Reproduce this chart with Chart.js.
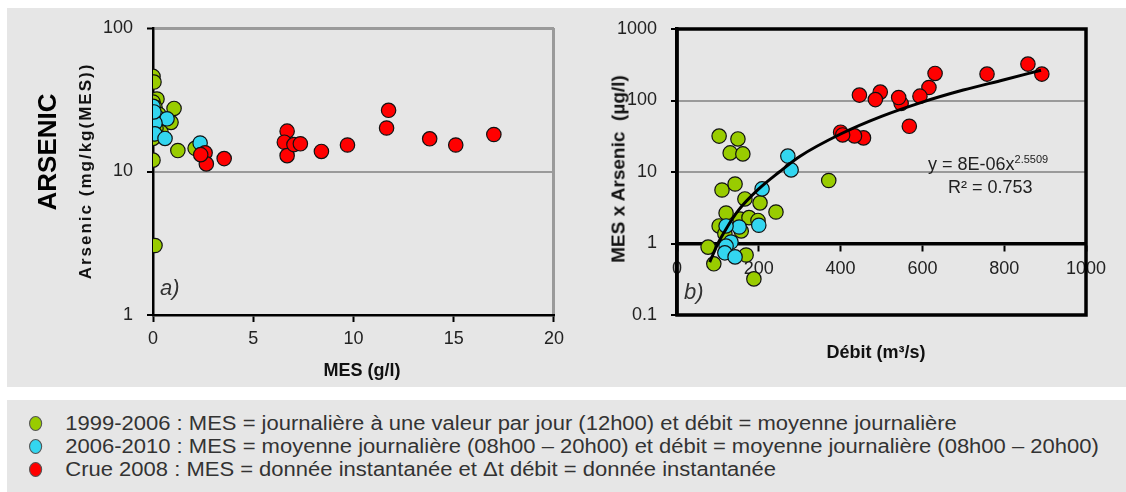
<!DOCTYPE html>
<html>
<head>
<meta charset="utf-8">
<script src="https://cdn.jsdelivr.net/npm/chart.js@4.4.0/dist/chart.umd.min.js"></script>
<style>
  body { margin: 0; width: 1126px; height: 492px; background: #fff; position: relative; overflow: hidden;
         font-family: 'Liberation Sans', Arial, sans-serif; color: #222; }
  #panel { position: absolute; left: 7px; top: 8px; width: 1119px; height: 379px; background: #e6e6e6; }
  #legend { position: absolute; left: 7px; top: 400px; width: 1119px; height: 92px; background: #e6e6e6; }
  .cv { position: absolute; top: 0; }
  .lbl { position: absolute; white-space: pre; line-height: 1; }
  .rot { transform: translate(-50%, -50%) rotate(-90deg); }
  .ctr { transform: translate(-50%, -50%); }
  .row { position: absolute; left: 22px; white-space: nowrap; font-size: 20px; color: #333; line-height: 1;
         transform: scaleX(1.1); transform-origin: 0 50%; }
  .dot { display: inline-block; width: 10px; height: 13px; border-radius: 50%; border: 1px solid #555;
         vertical-align: -1px; margin-right: 21px; }
</style>
</head>
<body>
<div id="panel"></div>
<div id="legend">
  <div class="row" style="top:13px"><span class="dot" style="background:#99cc00"></span>1999-2006 : MES = journalière à une valeur par jour (12h00) et débit = moyenne journalière</div>
  <div class="row" style="top:36px"><span class="dot" style="background:#33d6f0"></span>2006-2010 : MES = moyenne journalière (08h00 – 20h00) et débit = moyenne journalière (08h00 – 20h00)</div>
  <div class="row" style="top:59px"><span class="dot" style="background:#ff0000"></span>Crue 2008 : MES = donnée instantanée et Δt débit = donnée instantanée</div>
</div>

<canvas id="chartA" class="cv" style="left:0px" width="570" height="387"></canvas>
<canvas id="chartB" class="cv" style="left:570px" width="556" height="387"></canvas>

<div class="lbl rot" style="left:47px; top:152px; font-size:26px; font-weight:bold; color:#000">ARSENIC</div>
<div class="lbl rot" style="left:85px; top:171px; font-size:17px; font-weight:bold; letter-spacing:2px; color:#111">Arsenic (mg/kg(MES))</div>
<div class="lbl ctr" style="left:362px; top:370px; font-size:18px; font-weight:bold; color:#111">MES (g/l)</div>
<div class="lbl" style="left:160px; top:277px; font-size:22px; font-style:italic; color:#333">a)</div>

<div class="lbl rot" style="left:618px; top:169px; font-size:19px; font-weight:bold; color:#111">MES x Arsenic  (µg/l)</div>
<div class="lbl ctr" style="left:876px; top:352px; font-size:18px; font-weight:bold; color:#111">Débit (m³/s)</div>
<div class="lbl" style="left:684px; top:281px; font-size:22px; font-style:italic; color:#333">b)</div>
<div class="lbl" style="left:928px; top:154px; font-size:18px; color:#222">y = 8E-06x<sup style="font-size:11px; vertical-align:7px">2.5509</sup></div>
<div class="lbl" style="left:948px; top:178px; font-size:18px; color:#222">R² = 0.753</div>

<script>
// --- a) Arsenic (mg/kg MES) vs MES (g/l)
const aGreenX = [0.0, 0.05, 0.2, 0.0, 0.1, 1.05, 0.9, 0.4, 0.0, 1.24, 2.1, 0.0, 0.1, 0.3, 0.15];
const aGreenY = [46, 42, 32, 30.5, 28, 27.5, 22, 18.8, 17, 14, 14.5, 12, 3.05, 25, 20];
const aCyanX = [0.0, 0.2, 0.7, 0.1, 0.1, 0.6, 2.35, 0.05];
const aCyanY = [28.5, 24, 23.3, 21.8, 18.3, 17, 15.8, 26];
const aRedX = [2.6, 2.66, 2.38, 3.55, 6.69, 6.55, 6.69, 7.03, 7.35, 8.4, 9.7, 11.65, 11.75, 13.8, 15.1, 17.0];
const aRedY = [13.5, 11.3, 13.1, 12.3, 19.1, 16.0, 12.9, 15.4, 15.6, 13.8, 15.3, 20.1, 26.7, 16.9, 15.3, 18.1];
const aYTicks = [1, 10, 100];

// --- b) MES x Arsenic (µg/l) vs Débit (m3/s)
const bGreenX = [103, 149, 130, 161, 110, 142, 166, 203, 242, 120, 154, 176, 198, 103, 117, 157, 76, 90, 169, 188, 371];
const bGreenY = [31.8, 29, 18.5, 17.9, 5.6, 6.8, 4.2, 3.7, 2.76, 2.67, 2.2, 2.3, 2.1, 1.76, 1.37, 1.5, 0.89, 0.52, 0.69, 0.32, 7.6];
const bCyanX = [271, 279, 208, 200, 152, 120, 132, 120, 117, 142];
const bCyanY = [16.7, 10.7, 5.8, 1.8, 1.7, 1.76, 1.05, 0.92, 0.74, 0.65];
const bRedX = [858, 892, 758, 631, 616, 594, 568, 548, 542, 497, 485, 446, 456, 434, 400, 405];
const bRedY = [323, 234, 234, 239, 152, 115, 43.6, 90.8, 110, 131, 103, 119, 30, 32, 36, 33];
const bTrendX = [80, 100, 120, 150, 200, 250, 300, 400, 500, 600, 700, 800, 890];
const bTrendY = [0.55, 1.0, 1.6, 2.9, 5.8, 10, 16.5, 34, 60, 95, 140, 195, 265];
const bYTicks = [0.1, 1, 10, 100, 1000];

const tickFont = { family: "'Liberation Sans', Arial, sans-serif", size: 18 };
const green = '#99cc00', cyan = '#33d6f0', red = '#ff0000';

function pts(xs, ys) {
    return xs.map((x, i) => ({ x: x, y: ys[i] }));
}

function scatterSet(xs, ys, color, order) {
    return {
        type: 'scatter',
        data: pts(xs, ys),
        backgroundColor: color,
        borderColor: '#111',
        borderWidth: 1.2,
        pointRadius: 7.2,
        order: order
    };
}

// black frame around the plot area (chart b)
const framePlugin = {
    id: 'frame',
    afterDatasetsDraw(chart, args, opts) {
        if (!opts.color) return;
        const a = chart.chartArea;
        const ctx = chart.ctx;
        ctx.save();
        ctx.strokeStyle = opts.color;
        ctx.lineWidth = opts.width;
        ctx.strokeRect(a.left, a.top, a.right - a.left, a.bottom - a.top);
        ctx.restore();
    }
};

new Chart(document.getElementById('chartA'), {
    type: 'scatter',
    data: {
        datasets: [
            scatterSet(aGreenX, aGreenY, green, 3),
            scatterSet(aCyanX, aCyanY, cyan, 2),
            scatterSet(aRedX, aRedY, red, 1)
        ]
    },
    plugins: [framePlugin],
    options: {
        responsive: false,
        animation: false,
        layout: { padding: { left: 60, top: 28, right: 15, bottom: 0 } },
        plugins: { legend: { display: false }, tooltip: { enabled: false } },
        scales: {
            x: {
                type: 'linear', min: 0, max: 20,
                ticks: { stepSize: 5, padding: 6, color: '#222', font: tickFont, callback: v => String(v) },
                grid: {
                    color: ctx => ctx.tick && ctx.tick.value === 20 ? '#9a9a9a' : 'rgba(0,0,0,0)',
                    lineWidth: 3, tickColor: '#000', tickLength: 7, tickWidth: 2
                },
                border: { color: '#000', width: 2.5 },
                afterFit: s => { s.height = 72; }
            },
            y: {
                type: 'logarithmic', min: 1, max: 100,
                afterBuildTicks: s => { s.ticks = aYTicks.map(v => ({ value: v })); },
                ticks: { callback: v => String(v), padding: 14, color: '#222', font: tickFont },
                grid: {
                    color: ctx => ctx.tick && ctx.tick.value === 1 ? 'rgba(0,0,0,0)' : '#9a9a9a',
                    lineWidth: ctx => ctx.tick && ctx.tick.value === 100 ? 3 : 2,
                    tickColor: '#000', tickLength: 6, tickWidth: 2
                },
                border: { color: '#000', width: 2.5 },
                afterFit: s => { s.width = 93; }
            }
        }
    }
});

new Chart(document.getElementById('chartB'), {
    type: 'scatter',
    data: {
        datasets: [
            scatterSet(bGreenX, bGreenY, green, 4),
            scatterSet(bCyanX, bCyanY, cyan, 3),
            scatterSet(bRedX, bRedY, red, 2),
            {
                type: 'line',
                data: pts(bTrendX, bTrendY),
                borderColor: '#000',
                borderWidth: 3,
                pointRadius: 0,
                cubicInterpolationMode: 'monotone',
                fill: false,
                order: 1
            }
        ]
    },
    plugins: [framePlugin],
    options: {
        responsive: false,
        animation: false,
        // the x axis sits on y = 1, so it reserves no room: bottom padding sets the plot bottom
        layout: { padding: { left: 30, top: 29, right: 40, bottom: 72 } },
        plugins: {
            legend: { display: false }, tooltip: { enabled: false },
            frame: { color: '#000', width: 3.5 }
        },
        scales: {
            x: {
                type: 'linear', min: 0, max: 1000, position: { y: 1 },
                ticks: { stepSize: 200, padding: 9, color: '#222', font: tickFont, callback: v => String(v) },
                grid: { color: 'rgba(0,0,0,0)', tickColor: '#000', tickLength: 6, tickWidth: 2 },
                border: { color: '#000', width: 3.5 },
                afterFit: s => { s.height = 72; }
            },
            y: {
                type: 'logarithmic', min: 0.1, max: 1000,
                afterBuildTicks: s => { s.ticks = bYTicks.map(v => ({ value: v })); },
                ticks: { callback: v => String(v), padding: 14, color: '#222', font: tickFont },
                grid: {
                    color: ctx => ctx.tick && (ctx.tick.value === 10 || ctx.tick.value === 100) ? '#9a9a9a' : 'rgba(0,0,0,0)',
                    lineWidth: 2, tickColor: '#000', tickLength: 6, tickWidth: 2
                },
                border: { color: '#000', width: 3.5 },
                afterFit: s => { s.width = 77; }
            }
        }
    }
});
</script>
</body>
</html>
